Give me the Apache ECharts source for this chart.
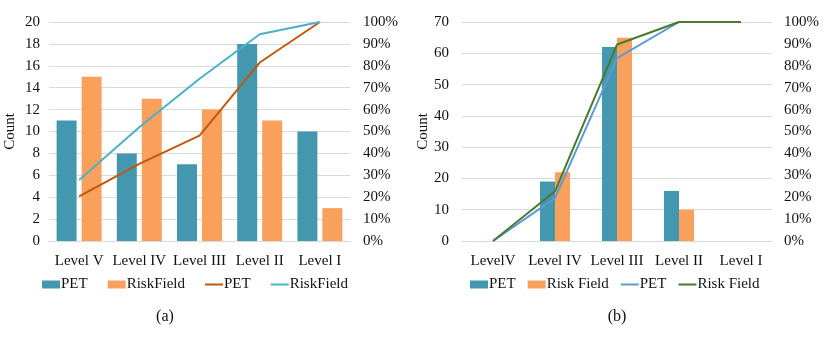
<!DOCTYPE html>
<html>
<head>
<meta charset="utf-8">
<script src="https://cdn.jsdelivr.net/npm/echarts@6/dist/echarts.min.js"></script>
<style>
  html, body { margin: 0; padding: 0; background: #fff; }
  #chart { width: 831px; height: 338px; }
</style>
</head>
<body>
<div id="chart"></div>
<script>
// 数据 (a)
var levelsA = ["Level V", "Level IV", "Level III", "Level II", "Level I"];
var petCountA = [11, 8, 7, 18, 10];
var riskCountA = [15, 13, 12, 11, 3];
var petCumA = [0.204, 0.352, 0.481, 0.815, 1.0];
var riskCumA = [0.278, 0.519, 0.741, 0.944, 1.0];

// 数据 (b)
var levelsB = ["LevelV", "Level IV", "Level III", "Level II", "Level I"];
var petCountB = [0, 19, 62, 16, 0];
var riskCountB = [0, 22, 65, 10, 0];
var petCumB = [0, 0.196, 0.835, 1.0, 1.0];
var riskCumB = [0, 0.227, 0.897, 1.0, 1.0];

var font = "'Liberation Serif', 'Times New Roman', serif";
var txt = "#111";
var teal = "#4397AF";
var orange = "#F9A05C";
var lineIcon = "path://M0,0 L18,0 L18,2 L0,2 Z";

function pct(v) {
  return Math.round(v * 100) + "%";
}

// 图例显示名，去掉前缀
function legendName(name) {
  return name.split("|")[1];
}

function leftAxis(grid, max, interval, margin) {
  return {
    type: "value",
    gridIndex: grid,
    min: 0,
    max: max,
    interval: interval,
    name: "Count",
    nameLocation: "middle",
    nameRotate: 90,
    nameGap: 31,
    nameTextStyle: { fontFamily: font, fontSize: 15, color: txt },
    axisLine: { show: false },
    axisTick: { show: false },
    axisLabel: { fontFamily: font, fontSize: 15, color: txt, margin: margin },
    splitLine: { lineStyle: { color: "#D9D9D9" } }
  };
}

function rightAxis(grid, margin) {
  return {
    type: "value",
    gridIndex: grid,
    position: "right",
    min: 0,
    max: 1,
    interval: 0.1,
    axisLine: { show: false },
    axisTick: { show: false },
    axisLabel: { fontFamily: font, fontSize: 15, color: txt, margin: margin, formatter: pct },
    splitLine: { show: false }
  };
}

function catAxis(grid, data) {
  return {
    type: "category",
    gridIndex: grid,
    data: data,
    axisLine: { lineStyle: { color: "#D9D9D9" } },
    axisTick: { show: false },
    axisLabel: { fontFamily: font, fontSize: 15, color: txt, margin: 13, interval: 0 }
  };
}

function legend(left, names, gap) {
  return {
    left: left,
    top: 277,
    padding: 0,
    itemWidth: 18,
    itemHeight: 8,
    itemGap: gap,
    formatter: legendName,
    itemStyle: { borderWidth: 0 },
    textStyle: { fontFamily: font, fontSize: 15, color: txt, padding: [0, 0, 0, -4] },
    data: names
  };
}

var chart = echarts.init(document.getElementById("chart"));

var option = {
  animation: false,
  backgroundColor: "#fff",
  grid: [
    { left: 49, right: 481, top: 22, bottom: 97 },
    { left: 462, right: 59, top: 22, bottom: 97 }
  ],
  xAxis: [catAxis(0, levelsA), catAxis(1, levelsB)],
  yAxis: [
    leftAxis(0, 20, 2, 9),
    rightAxis(0, 13),
    leftAxis(1, 70, 10, 13),
    rightAxis(1, 12)
  ],
  legend: [
    legend(42, [
      { name: "a|PET", icon: "rect" },
      { name: "a|RiskField", icon: "rect" },
      { name: "a|PET|l", icon: lineIcon },
      { name: "a|RiskField|l", icon: lineIcon }
    ], 20),
    legend(470, [
      { name: "b|PET", icon: "rect" },
      { name: "b|Risk Field", icon: "rect" },
      { name: "b|PET|l", icon: lineIcon },
      { name: "b|Risk Field|l", icon: lineIcon }
    ], 12)
  ],
  graphic: [
    {
      type: "text",
      x: 165,
      y: 317,
      style: { text: "(a)", font: "16px " + font, fill: txt, align: "center", verticalAlign: "middle" }
    },
    {
      type: "text",
      x: 617,
      y: 317,
      style: { text: "(b)", font: "16px " + font, fill: txt, align: "center", verticalAlign: "middle" }
    }
  ],
  series: [
    {
      name: "a|PET",
      type: "bar",
      xAxisIndex: 0,
      yAxisIndex: 0,
      barWidth: 20,
      barGap: "25%",
      itemStyle: { color: teal },
      data: petCountA
    },
    {
      name: "a|RiskField",
      type: "bar",
      xAxisIndex: 0,
      yAxisIndex: 0,
      barWidth: 20,
      barGap: "25%",
      itemStyle: { color: orange },
      data: riskCountA
    },
    {
      name: "a|PET|l",
      type: "line",
      xAxisIndex: 0,
      yAxisIndex: 1,
      symbol: "none",
      lineStyle: { color: "#C0580E", width: 2 },
      itemStyle: { color: "#C0580E" },
      data: petCumA
    },
    {
      name: "a|RiskField|l",
      type: "line",
      xAxisIndex: 0,
      yAxisIndex: 1,
      symbol: "none",
      lineStyle: { color: "#4BB0CC", width: 2 },
      itemStyle: { color: "#4BB0CC" },
      data: riskCumA
    },
    {
      name: "b|PET",
      type: "bar",
      xAxisIndex: 1,
      yAxisIndex: 2,
      barWidth: 15,
      barGap: 0,
      itemStyle: { color: teal },
      data: petCountB
    },
    {
      name: "b|Risk Field",
      type: "bar",
      xAxisIndex: 1,
      yAxisIndex: 2,
      barWidth: 15,
      barGap: 0,
      itemStyle: { color: orange },
      data: riskCountB
    },
    {
      name: "b|PET|l",
      type: "line",
      xAxisIndex: 1,
      yAxisIndex: 3,
      symbol: "none",
      lineStyle: { color: "#5B9BD5", width: 2 },
      itemStyle: { color: "#5B9BD5" },
      data: petCumB
    },
    {
      name: "b|Risk Field|l",
      type: "line",
      xAxisIndex: 1,
      yAxisIndex: 3,
      symbol: "none",
      lineStyle: { color: "#4A7A2E", width: 2 },
      itemStyle: { color: "#4A7A2E" },
      data: riskCumB
    }
  ]
};

chart.setOption(option);
</script>
</body>
</html>
